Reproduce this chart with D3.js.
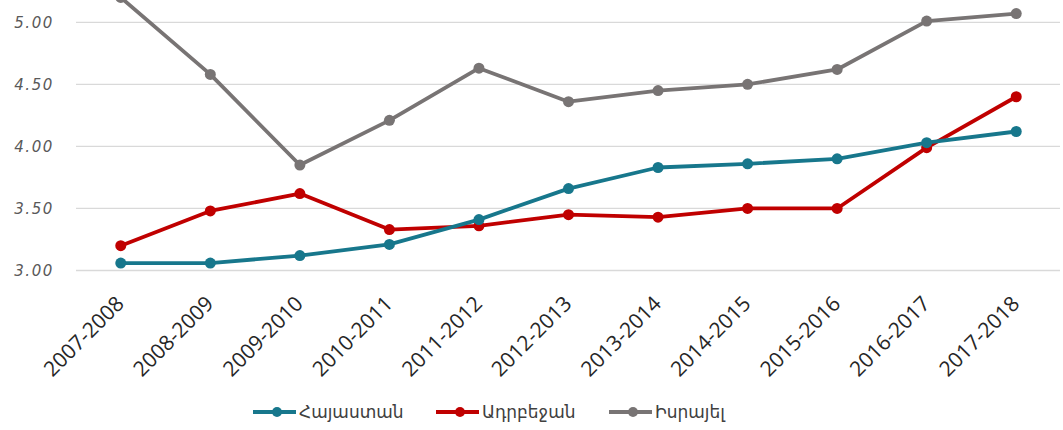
<!DOCTYPE html>
<html>
<head>
<meta charset="utf-8">
<script src="https://cdn.jsdelivr.net/npm/d3@7"></script>
<style>
  body { margin: 0; background: #fff; }
  svg { display: block; }
</style>
</head>
<body>
<script>
// academic years on the x axis
const years = ["2007-2008", "2008-2009", "2009-2010", "2010-2011", "2011-2012", "2012-2013",
    "2013-2014", "2014-2015", "2015-2016", "2016-2017", "2017-2018"];

const seriesNames = ["Հայաստան", "Ադրբեջան", "Իսրայել"];

const armenia = [3.06, 3.06, 3.12, 3.21, 3.41, 3.66, 3.83, 3.86, 3.90, 4.03, 4.12];
const azerbaijan = [3.20, 3.48, 3.62, 3.33, 3.36, 3.45, 3.43, 3.50, 3.50, 3.99, 4.40];
const israel = [5.20, 4.58, 3.85, 4.21, 4.63, 4.36, 4.45, 4.50, 4.62, 5.01, 5.07];

const yTicks = [3.00, 3.50, 4.00, 4.50, 5.00];

const colors = ["#17778c", "#c00000", "#787474"];

const width = 1063, height = 430;

const svg = d3.select("body").append("svg")
    .attr("width", width)
    .attr("height", height);

// set the ranges
const x = d3.scalePoint().domain(years).range([76, 1061]).padding(0.5);
const y = d3.scaleLinear().domain([3, 5]).range([270.5, 22.3]);

// gridlines
svg.append("g")
    .selectAll("line")
    .data(yTicks)
    .join("line")
    .attr("x1", 76)
    .attr("x2", 1060)
    .attr("y1", d => y(d))
    .attr("y2", d => y(d))
    .attr("stroke", "#d9d9d9")
    .attr("stroke-width", 1.3);

// y axis labels
const yAxis = svg.append("g")
    .attr("transform", "translate(54,0)")
    .call(d3.axisLeft(y).tickValues(yTicks).tickFormat(d3.format(".2f")).tickSize(0).tickPadding(0));
yAxis.select(".domain").remove();
yAxis.selectAll("text")
    .attr("fill", "#595959")
    .style("font-family", "'DejaVu Sans', sans-serif")
    .style("font-style", "italic")
    .style("font-size", "15px")
    .style("letter-spacing", "1.6px");

// x axis labels, rotated
const xAxis = svg.append("g")
    .attr("transform", "translate(0,283)")
    .call(d3.axisBottom(x).tickSize(0).tickPadding(0));
xAxis.select(".domain").remove();
xAxis.selectAll("text")
    .attr("fill", "#262626")
    .style("font-family", "'Open Sans', sans-serif")
    .style("font-size", "21px")
    .attr("text-anchor", "end")
    .attr("x", 0)
    .attr("y", 0)
    .attr("dy", 0)
    .attr("transform", "translate(4,22) rotate(-45)");

// define the line
const valueline = d3.line()
    .x((d, i) => x(years[i]))
    .y(d => y(d));

const allSeries = [armenia, azerbaijan, israel];

// draw in reverse so the first series ends up on top
[2, 1, 0].forEach(function (k) {
    const g = svg.append("g");
    g.append("path")
        .datum(allSeries[k])
        .attr("fill", "none")
        .attr("stroke", colors[k])
        .attr("stroke-width", 3.8)
        .attr("stroke-linejoin", "round")
        .attr("d", valueline);
    g.selectAll("circle")
        .data(allSeries[k])
        .join("circle")
        .attr("cx", (d, i) => x(years[i]))
        .attr("cy", d => y(d))
        .attr("r", 5.5)
        .attr("fill", colors[k]);
});

// legend
const legendX = [253, 436, 609];
const legend = svg.append("g")
    .selectAll("g")
    .data(seriesNames)
    .join("g")
    .attr("transform", (d, i) => "translate(" + legendX[i] + ",412)");
legend.append("line")
    .attr("x1", 0)
    .attr("x2", 43)
    .attr("stroke", (d, i) => colors[i])
    .attr("stroke-width", 4);
legend.append("circle")
    .attr("cx", 24)
    .attr("r", 5)
    .attr("fill", (d, i) => colors[i]);
legend.append("text")
    .attr("x", 46)
    .attr("dy", "0.35em")
    .attr("fill", "#404040")
    .style("font-family", "'DejaVu Sans', sans-serif")
    .style("font-size", "17px")
    .text(d => d);
</script>
</body>
</html>
